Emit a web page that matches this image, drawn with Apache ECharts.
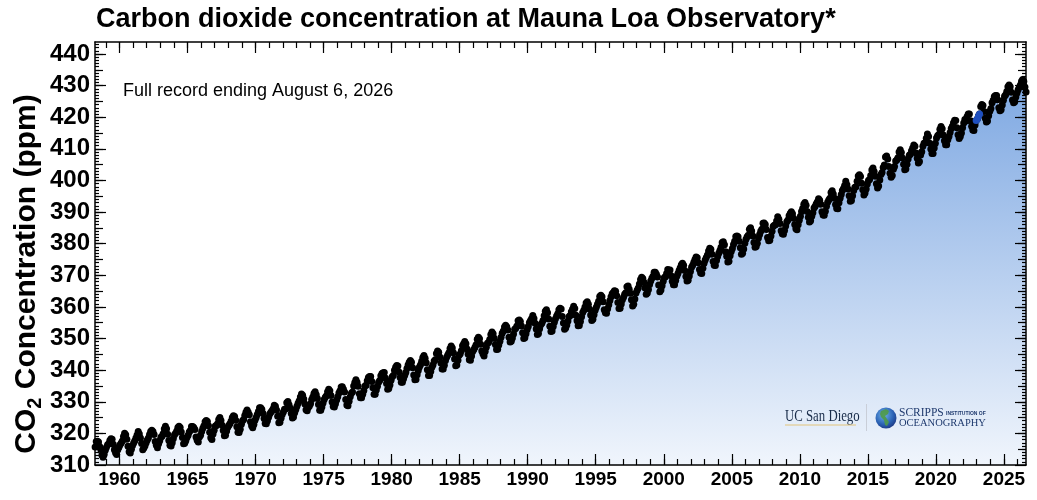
<!DOCTYPE html>
<html><head><meta charset="utf-8">
<script src="https://cdn.jsdelivr.net/npm/echarts@6/dist/echarts.min.js"></script>
<style>html,body{margin:0;padding:0;background:#fff}#c{width:1037px;height:500px}</style>
</head><body><div id="c"></div>
<script>
// Monthly CO2 (ppm) at Mauna Loa, starting March 1958
const startYear = 1958, startMonth = 3;
const co2_1958_1959 = [315.70,317.45,317.51,317.24,315.86,314.93,313.20,312.43,313.33,314.67,
 315.62,316.38,316.71,317.72,318.29,318.15,316.54,314.80,313.84,313.33,314.81,315.58];
const co2_1960s = [
 316.43,316.97,317.58,319.03,320.03,319.59,318.18,315.91,314.16,313.83,315.00,316.19,
 316.93,317.70,318.54,319.48,320.58,319.77,318.57,316.79,314.80,315.38,316.10,317.01,
 317.94,318.55,319.68,320.57,321.02,320.62,319.61,317.40,316.25,315.42,316.69,317.70,
 318.74,319.07,319.86,321.38,322.25,321.48,319.74,317.77,316.21,315.99,317.07,318.35,
 319.57,320.01,320.74,321.84,322.26,321.89,320.44,318.69,316.70,316.87,317.68,318.71,
 319.44,320.44,320.89,322.14,322.17,321.87,321.21,318.87,317.81,317.30,318.87,319.42,
 320.62,321.60,322.39,323.70,324.08,323.75,322.38,320.36,318.64,318.10,319.78,321.03,
 322.33,322.50,323.04,324.42,325.00,324.09,322.54,320.92,319.25,319.39,320.73,321.96,
 322.57,323.15,323.89,325.02,325.57,325.36,324.14,322.11,320.33,320.25,321.32,322.89,
 324.00,324.42,325.63,326.66,327.38,326.71,325.88,323.66,322.38,321.78,322.85,324.12];
const co2_1970s = [
 325.06,325.98,326.93,328.13,328.08,327.67,326.34,324.69,323.10,323.06,324.01,325.13,
 326.17,326.68,327.17,327.79,328.93,328.57,327.36,325.43,323.36,323.56,324.80,326.01,
 326.77,327.63,327.75,329.72,330.07,329.09,328.04,326.32,324.84,325.20,326.50,327.55,
 328.55,329.56,330.30,331.50,332.48,332.07,330.87,329.31,327.51,327.18,328.16,328.64,
 329.35,330.71,331.48,332.65,333.19,332.20,331.07,329.15,327.33,327.28,328.31,329.58,
 330.73,331.46,331.90,333.17,333.94,333.45,331.98,329.95,328.50,328.34,329.37,330.58,
 331.59,332.75,333.52,334.64,334.77,334.00,333.06,330.68,328.95,328.75,330.15,331.62,
 332.66,333.13,334.95,336.13,336.93,336.17,334.88,332.56,331.29,331.27,332.41,333.60,
 334.95,335.25,336.66,337.69,338.03,338.01,336.41,334.41,332.37,332.41,333.75,334.90,
 336.14,336.69,338.27,338.95,339.21,339.26,337.54,335.75,333.98,334.19,335.31,336.81];
const co2_1980s = [
 337.90,338.34,340.01,340.93,341.48,341.33,339.40,337.70,336.19,336.15,337.27,338.32,
 339.29,340.55,341.61,342.53,343.03,342.54,340.78,338.44,336.95,337.08,338.58,339.88,
 340.96,341.73,342.81,343.97,344.63,343.79,342.32,340.09,338.28,338.29,339.60,340.90,
 341.68,342.90,343.33,345.25,346.03,345.63,344.19,342.27,340.35,340.38,341.59,343.05,
 344.10,344.79,345.52,346.84,347.63,346.98,345.53,343.55,341.40,341.67,343.10,344.70,
 345.21,346.16,347.74,348.34,349.06,348.38,346.72,345.02,343.27,343.13,344.49,345.88,
 346.56,347.28,348.01,349.77,350.38,349.93,348.16,346.08,345.22,344.51,345.93,347.22,
 348.52,348.73,349.73,351.31,352.09,351.53,350.11,348.08,346.52,346.59,347.96,349.16,
 350.39,351.64,352.40,353.69,354.21,353.72,352.69,350.40,348.92,349.13,350.20,351.41,
 352.91,353.27,353.96,355.64,355.86,355.37,353.99,351.81,350.05,350.25,351.49,352.85];
const co2_1990s = [
 353.80,355.04,355.73,356.32,357.32,356.34,354.84,353.01,351.31,351.62,353.07,354.33,
 354.84,355.73,357.23,358.66,359.13,358.13,356.19,353.85,352.25,352.35,353.81,355.12,
 356.25,357.11,357.86,359.09,359.59,359.33,357.01,354.94,352.96,353.32,354.32,355.57,
 357.00,357.31,358.47,359.27,360.19,359.52,357.33,355.64,354.03,354.12,355.41,356.91,
 358.24,358.92,359.99,361.23,361.65,360.81,359.38,357.46,355.73,356.08,357.53,358.98,
 359.92,360.86,361.83,363.30,363.69,363.19,361.64,359.12,358.17,357.99,359.45,360.68,
 362.07,363.24,364.17,364.57,365.13,364.92,363.55,361.38,359.54,359.58,360.89,362.24,
 363.09,364.03,364.51,366.35,366.64,365.59,364.31,362.25,360.29,360.82,362.49,364.38,
 365.26,365.98,367.24,368.66,369.42,368.99,367.82,365.95,364.02,364.40,365.52,367.13,
 368.18,369.07,369.68,370.99,370.96,370.30,369.45,366.90,364.81,365.37,366.72,368.10];
const co2_2000s = [
 369.29,369.54,370.60,371.82,371.58,371.70,369.86,368.13,367.00,367.03,368.37,369.67,
 370.59,371.51,372.43,373.37,373.85,373.21,371.51,369.61,368.18,368.45,369.76,371.24,
 372.53,373.20,374.12,375.02,375.76,375.52,374.01,371.85,370.75,370.55,372.25,373.79,
 374.88,375.64,376.45,377.73,378.60,378.28,376.70,374.38,373.17,373.14,374.66,375.99,
 377.00,377.87,378.88,380.35,380.62,379.69,377.47,376.01,374.25,374.46,376.16,377.51,
 378.46,379.73,380.77,382.29,382.45,382.21,380.74,378.74,376.70,377.00,378.35,380.11,
 381.38,382.19,382.67,384.61,385.03,384.05,382.46,380.41,378.85,379.13,380.15,381.82,
 382.89,383.90,384.58,386.50,386.56,386.10,384.50,381.99,380.96,381.12,382.45,383.95,
 385.52,385.82,386.03,387.21,388.54,387.76,386.36,384.09,383.18,382.99,384.19,385.56,
 386.94,387.48,388.82,389.55,390.14,389.48,388.03,386.11,384.74,384.43,386.02,387.42];
const co2_2010s = [
 388.71,390.20,391.17,392.46,393.00,392.15,390.20,388.35,386.85,387.24,388.67,389.79,
 391.33,391.86,392.60,393.25,394.19,393.74,392.51,390.13,389.08,389.00,390.28,391.86,
 393.12,393.86,394.40,396.18,396.74,395.71,394.36,392.39,391.11,391.05,392.98,394.34,
 395.55,396.80,397.43,398.41,399.78,398.61,397.32,395.20,393.45,393.70,395.16,396.84,
 397.85,398.01,399.77,401.38,401.78,401.25,399.10,397.03,395.38,396.03,397.28,398.91,
 399.98,400.28,401.54,403.28,403.96,402.80,401.31,398.93,397.63,398.29,400.16,401.85,
 402.56,404.12,404.87,407.45,407.72,406.83,404.41,402.27,401.05,401.59,403.55,404.45,
 406.17,406.46,407.22,409.04,409.69,408.88,407.12,405.13,403.37,403.63,405.12,406.81,
 407.96,408.32,409.41,410.24,411.24,410.79,408.71,406.99,405.51,406.00,408.02,409.07,
 410.83,411.75,411.97,413.32,414.66,413.92,411.77,409.95,408.54,408.53,410.27,411.76];
const co2_2020s = [
 413.40,414.11,414.51,416.21,417.07,416.38,414.38,412.55,411.29,411.28,412.89,413.89,
 415.15,416.47,417.16,418.24,419.05,418.97,416.70,414.47,413.30,413.93,415.01,416.71,
 418.19,419.28,418.81,420.23,420.99,420.99,418.90,417.19,415.95,415.78,417.51,418.95,
 419.47,420.41,420.99,423.36,424.00,423.68,421.83,419.68,418.51,418.82,420.46,421.86,
 422.80,424.55,425.38,426.57,426.90,426.91,425.55,422.99,422.03,422.38,423.85,425.40,
 426.65,427.09,428.15,429.64,430.20,429.61,427.87,425.48,424.60,424.90,426.40,427.70,
 428.70,429.50,430.20,431.40,431.90,431.30,429.60,428.00];
// Maunakea substitute record (blue), starting December 2022
const mkStartYear = 2022, mkStartMonth = 12;
const co2_maunakea = [418.95,419.47,420.41,420.99];

const xTickLabels = [1960,1965,1970,1975,1980,1985,1990,1995,2000,2005,2010,2015,2020,2025];
const yTickLabels = [310,320,330,340,350,360,370,380,390,400,410,420,430,440];

const monthly = [].concat(co2_1958_1959, co2_1960s, co2_1970s, co2_1980s, co2_1990s, co2_2000s, co2_2010s, co2_2020s);
const dec = (y, m, i) => y + (m - 1 + i + 0.5) / 12;
const mainData = monthly.map((v, i) => [dec(startYear, startMonth, i), v]);
const mkData = co2_maunakea.map((v, i) => [dec(mkStartYear, mkStartMonth, i), v]);

const XMIN = 1958.2, XMAX = 2026.62, YMIN = 310, YMAX = 443.8;
const allYears = []; for (let y = 1959; y <= 2026; y++) allYears.push(y);
const ppmOnes = []; for (let p = 311; p <= 443; p++) ppmOnes.push(p);
const ppmFives = []; for (let p = 315; p <= 440; p += 5) ppmFives.push(p);

const FONT = "'Liberation Sans', Arial, Helvetica, sans-serif";
const lineSt = {color: '#000', width: 1.5};
const tickSt = {color: '#000', width: 1.2};

function xAx(pos, vals, len, showLine, labels) {
  return {type: 'value', position: pos, min: XMIN, max: XMAX, z: 10,
    axisLine: {show: showLine, onZero: false, lineStyle: lineSt},
    axisTick: {show: true, inside: true, length: len, customValues: vals, lineStyle: tickSt},
    axisLabel: labels ? {show: true, customValues: xTickLabels, formatter: v => String(v), fontFamily: FONT, fontWeight: 'bold', fontSize: 19, color: '#000', margin: 5} : {show: false},
    splitLine: {show: false}};
}
function yAx(pos, vals, len, showLine, labels) {
  return {type: 'value', position: pos, min: YMIN, max: YMAX, z: 10,
    axisLine: {show: showLine, onZero: false, lineStyle: lineSt},
    axisTick: {show: true, inside: true, length: len, customValues: vals, lineStyle: tickSt},
    axisLabel: labels ? {show: true, customValues: yTickLabels, formatter: v => String(v), fontFamily: FONT, fontWeight: 'bold', fontSize: 24, color: '#000', margin: 5, padding: [5, 0, 0, 0]} : {show: false},
    splitLine: {show: false}};
}

// y-axis title pieces laid out along a rotated line (CO, subscript 2, rest)
const titleFont = "bold 30px " + FONT, subFont = "bold 20px " + FONT;
const mctx = document.createElement('canvas').getContext('2d');
function tw(t, f) { mctx.font = f; return mctx.measureText(t).width; }
const pA = 'CO', pB = '2', pC = ' Concentration (ppm)';
const wA = tw(pA, titleFont), wB = tw(pB, subFont), wC = tw(pC, titleFont);
const yTitleCenter = 274, yTitleX = 27;
const y0 = yTitleCenter + (wA + wB + wC) / 2;

const chart = echarts.init(document.getElementById('c'), null, {renderer: 'canvas'});
chart.setOption({
  animation: false,
  backgroundColor: '#fff',
  grid: {left: 95, right: 11, top: 42, bottom: 35, containLabel: false},
  xAxis: [
    xAx('bottom', xTickLabels, 11, true, true),
    xAx('bottom', allYears, 6, false, false),
    xAx('top', xTickLabels, 11, true, false),
    xAx('top', allYears, 6, false, false)
  ],
  yAxis: [
    yAx('left', yTickLabels, 11, true, true),
    yAx('left', ppmFives, 8, false, false),
    yAx('left', ppmOnes, 4, false, false),
    yAx('right', yTickLabels, 11, true, false),
    yAx('right', ppmFives, 8, false, false),
    yAx('right', ppmOnes, 4, false, false)
  ],
  series: [
    {type: 'line', data: mainData, showSymbol: false, symbol: 'none', z: 1,
      lineStyle: {width: 0, opacity: 0},
      areaStyle: {origin: 'start', opacity: 1,
        color: new echarts.graphic.LinearGradient(0, 0, 0, 1, [
          {offset: 0, color: '#7ea8e2'}, {offset: 1, color: '#f0f5fc'}])}},
    {type: 'scatter', data: mainData, symbol: 'circle', symbolSize: 7, z: 3,
      itemStyle: {color: '#000', opacity: 1}},
    {type: 'scatter', data: mkData, symbol: 'circle', symbolSize: 7, z: 4,
      itemStyle: {color: '#1f4fbf', opacity: 1}}
  ],
  graphic: [
    {type: 'text', x: 96, y: 20, z: 20, style: {text: 'Carbon dioxide concentration at Mauna Loa Observatory*',
      font: "bold 27px " + FONT, fill: '#000', align: 'left', verticalAlign: 'middle'}},
    {type: 'text', x: 123, y: 91, z: 20, style: {text: 'Full record ending August 6, 2026',
      font: "18px " + FONT, fill: '#000', align: 'left', verticalAlign: 'middle'}},
    {type: 'text', x: yTitleX, y: y0, rotation: Math.PI / 2, z: 20, style: {
      text: pA, font: titleFont, fill: '#000', align: 'left', verticalAlign: 'middle'}},
    {type: 'text', x: yTitleX + 8, y: y0 - wA, rotation: Math.PI / 2, z: 20, style: {
      text: pB, font: subFont, fill: '#000', align: 'left', verticalAlign: 'middle'}},
    {type: 'text', x: yTitleX, y: y0 - wA - wB, rotation: Math.PI / 2, z: 20, style: {
      text: pC, font: titleFont, fill: '#000', align: 'left', verticalAlign: 'middle'}},
    // UC San Diego logotype
    {type: 'text', x: 785, y: 417, scaleX: 0.8, z: 20, style: {text: 'UC San Diego',
      font: "16px 'Liberation Serif', 'DejaVu Serif', serif", fill: '#182b49', align: 'left', verticalAlign: 'middle'}},
    {type: 'line', z: 20, shape: {x1: 785, y1: 425, x2: 856, y2: 425}, style: {stroke: '#e2c47a', lineWidth: 1}},
    {type: 'line', z: 20, shape: {x1: 866.5, y1: 404, x2: 866.5, y2: 431}, style: {stroke: '#c9ced8', lineWidth: 1}},
    // Scripps globe
    {type: 'circle', z: 20, shape: {cx: 886, cy: 418, r: 10.5}, style: {
      fill: new echarts.graphic.RadialGradient(0.4, 0.35, 0.75, [
        {offset: 0, color: '#6fb2ea'}, {offset: 0.6, color: '#2b62b5'}, {offset: 1, color: '#1a2f78'}])}},
    {type: 'polygon', z: 21, shape: {points: [[881,411],[886,409],[889,411],[888,414],[885,416],[887,419],[889,422],[887,426],[885,425],[884,420],[881,417],[880,414]]},
      style: {fill: '#4f9a48', opacity: 0.9}},
    {type: 'text', x: 899, y: 413, z: 20, style: {text: 'SCRIPPS',
      font: "11.5px 'Liberation Serif', 'DejaVu Serif', serif", fill: '#1f3a6e', align: 'left', verticalAlign: 'middle'}},
    {type: 'text', x: 946, y: 414, z: 20, style: {text: 'INSTITUTION OF',
      font: "bold 5px 'Liberation Sans', sans-serif", fill: '#1f3a6e', align: 'left', verticalAlign: 'middle'}},
    {type: 'text', x: 899, y: 423.5, z: 20, style: {text: 'OCEANOGRAPHY',
      font: "10.5px 'Liberation Serif', 'DejaVu Serif', serif", fill: '#1f3a6e', align: 'left', verticalAlign: 'middle'}}
  ]
});
</script></body></html>
